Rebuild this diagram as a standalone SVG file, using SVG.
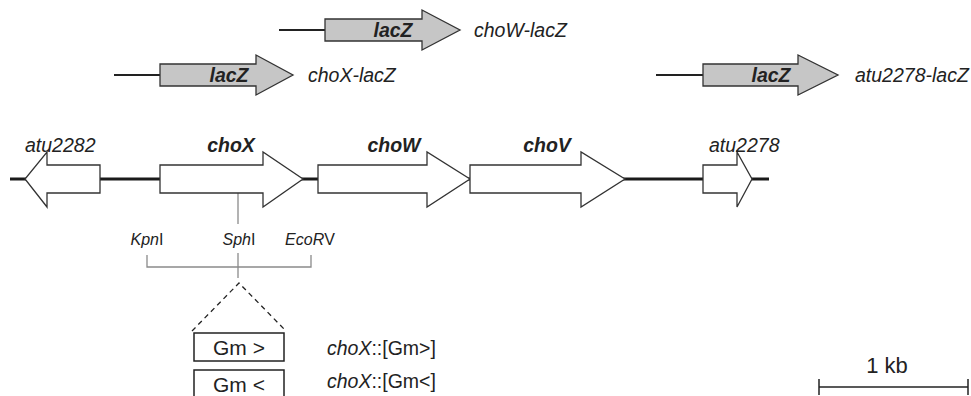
<svg xmlns="http://www.w3.org/2000/svg" width="971" height="396" viewBox="0 0 971 396">
<style>
text{font-family:"Liberation Sans",Arial,sans-serif;fill:#222}
.it{font-style:italic}
.bi{font-style:italic;font-weight:bold}
.lab{font-size:19.5px}
.site{font-size:16px}
.gene{fill:#fff;stroke:#333;stroke-width:1.3}
.lacz{fill:#c6c6c6;stroke:#333;stroke-width:1.3}
.dna{stroke:#1a1a1a;stroke-width:3;fill:none}
.thin{stroke:#222;stroke-width:2.2;fill:none}
.gray{stroke:#8a8a8a;stroke-width:1.3;fill:none}
.dash{stroke:#222;stroke-width:1.3;stroke-dasharray:5 4;fill:none}
.box{fill:#fff;stroke:#222;stroke-width:1.5}
</style>
<rect width="971" height="396" fill="#fff"/>
<g id="connectors">
<line class="thin" x1="279" y1="30" x2="325" y2="30"/>
<line class="thin" x1="114" y1="75" x2="160" y2="75"/>
<line class="thin" x1="656" y1="75" x2="703" y2="75"/>
<line class="dna" x1="10" y1="179" x2="769" y2="179"/>
<line class="gray" x1="238" y1="193" x2="238" y2="224"/>
<polyline class="gray" points="147,255 147,267 311,267 311,255"/>
<line class="gray" x1="238" y1="253" x2="238" y2="278"/>
<polyline class="dash" points="192,331 239,283 286,331"/>
<line stroke="#222" stroke-width="1.5" x1="819" y1="387" x2="968" y2="387"/>
<line stroke="#222" stroke-width="1.5" x1="819" y1="379" x2="819" y2="395"/>
<line stroke="#222" stroke-width="1.5" x1="968" y1="379" x2="968" y2="395"/>
</g>
<g id="choW-lacZ">
<polygon class="lacz" points="325,19 422,19 422,10 460,30 422,50 422,41 325,41"/>
<text class="bi" font-size="19.5" x="393" y="37" text-anchor="middle">lacZ</text>
<text class="it lab" x="474" y="37">choW-lacZ</text>
</g>
<g id="choX-lacZ">
<polygon class="lacz" points="160,64 256,64 256,55 293,75 256,95 256,86 160,86"/>
<text class="bi" font-size="19.5" x="229" y="82" text-anchor="middle">lacZ</text>
<text class="it lab" x="308" y="82">choX-lacZ</text>
</g>
<g id="atu2278-lacZ">
<polygon class="lacz" points="703,64 798,64 798,55 838,75 798,95 798,86 703,86"/>
<text class="bi" font-size="19.5" x="771" y="82" text-anchor="middle">lacZ</text>
<text class="it lab" x="855" y="82">atu2278-lacZ</text>
</g>
<g id="atu2282">
<polygon class="gene" points="100,165 47,165 47,152 25,179 47,207 47,193 100,193"/>
<text class="it lab" x="25" y="152">atu2282</text>
</g>
<g id="choX">
<polygon class="gene" points="160,165 263,165 263,152 303,179 263,207 263,193 160,193"/>
<text class="bi lab" x="231" y="152" text-anchor="middle">choX</text>
</g>
<g id="choW">
<polygon class="gene" points="318,165 427,165 427,152 470,179 427,207 427,193 318,193"/>
<text class="bi lab" x="394" y="152" text-anchor="middle">choW</text>
</g>
<g id="choV">
<polygon class="gene" points="470,165 581,165 581,152 625,179 581,207 581,193 470,193"/>
<text class="bi lab" x="547" y="152" text-anchor="middle">choV</text>
</g>
<g id="atu2278">
<polygon class="gene" points="703,165 737,165 737,152 752,179 737,207 737,193 703,193"/>
<text class="it lab" x="709" y="152">atu2278</text>
</g>
<g id="sites">
<text class="site" x="147" y="245" text-anchor="middle"><tspan class="it">Kpn</tspan>I</text>
<text class="site" x="239" y="245" text-anchor="middle"><tspan class="it">Sph</tspan>I</text>
<text class="site" x="310" y="245" text-anchor="middle"><tspan class="it">EcoR</tspan>V</text>
</g>
<g id="gm1">
<rect class="box" x="194" y="333" width="90" height="28"/>
<text font-size="21" x="239" y="355" text-anchor="middle">Gm &gt;</text>
<text class="lab" x="327" y="355"><tspan class="it">choX</tspan>::[Gm&gt;]</text>
</g>
<g id="gm2">
<rect class="box" x="194" y="370" width="90" height="30"/>
<text font-size="21" x="239" y="392" text-anchor="middle">Gm &lt;</text>
<text class="lab" x="327" y="388"><tspan class="it">choX</tspan>::[Gm&lt;]</text>
</g>
<g id="scale">
<text font-size="22" x="887" y="373" text-anchor="middle">1 kb</text>
</g>
</svg>
